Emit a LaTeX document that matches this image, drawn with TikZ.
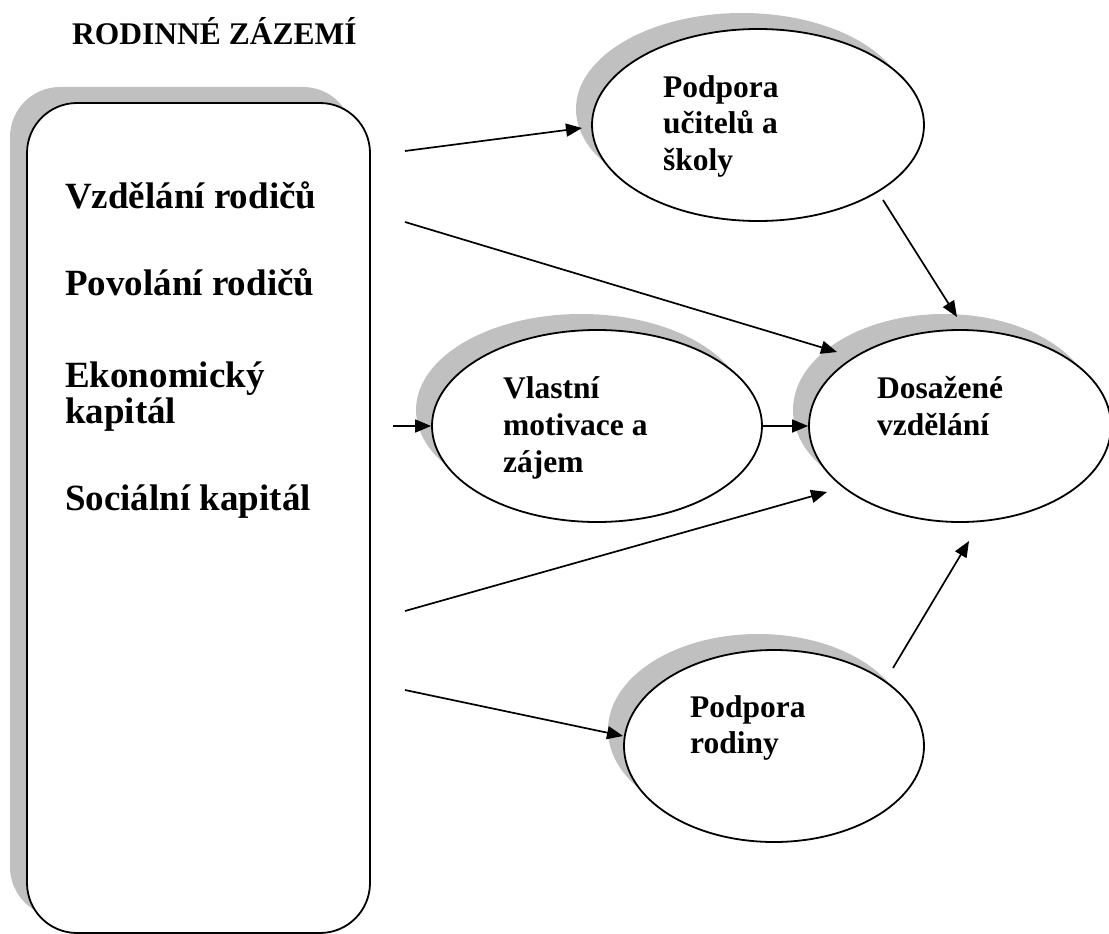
\documentclass[tikz,border=0pt]{standalone}
\usepackage{fontspec}
\setmainfont{Liberation Serif}
\usetikzlibrary{shapes.geometric,shadows,arrows.meta}
\definecolor{shgray}{HTML}{C0C0C0}
\begin{document}
\begin{tikzpicture}[x=1pt,y=-1pt,
  shad/.style={drop shadow={shadow xshift=-16pt,shadow yshift=16pt,fill=shgray,opacity=1}},
  oval/.style={ellipse,draw,line width=1.8pt,fill=white,inner sep=0pt,shad},
  lbl/.style={anchor=base west,inner sep=0pt,font=\fontsize{31.5}{36}\selectfont\bfseries},
  boxlbl/.style={anchor=base west,inner sep=0pt,font=\fontsize{37}{42}\selectfont\bfseries},
  arr/.style={line width=1.7pt,-{Triangle[length=16pt,width=13pt]}}]
\useasboundingbox (0,0) rectangle (1109,934);

% family background box
\node[draw,line width=1.8pt,fill=white,rounded corners=50pt,minimum width=343pt,
  minimum height=830pt,inner sep=0pt,
  drop shadow={shadow xshift=-17pt,shadow yshift=16pt,fill=shgray,opacity=1}] (box) at (198.5,518) {};

% ellipses
\node[oval,minimum width=332pt,minimum height=192pt] (pu) at (758,125) {};
\node[oval,minimum width=330pt,minimum height=192pt] (vm) at (597,426) {};
\node[oval,minimum width=302pt,minimum height=192pt] (dv) at (960,426) {};
\node[oval,minimum width=300pt,minimum height=192pt] (pr) at (774,746) {};

% texts
\node[lbl] (title) at (72,45) {RODINNÉ ZÁZEMÍ};
\node[boxlbl] (b1) at (65,208) {Vzdělání rodičů};
\node[boxlbl] (b2) at (65,295) {Povolání rodičů};
\node[boxlbl] (b3) at (65,387) {Ekonomický};
\node[boxlbl] (b4) at (65,423) {kapitál};
\node[boxlbl] (b5) at (65,510) {Sociální kapitál};

\node[lbl] (pu1) at (663,97) {Podpora};
\node[lbl] (pu2) at (663,133) {učitelů a};
\node[lbl] (pu3) at (663,170) {školy};

\node[lbl] (vm1) at (503,398) {Vlastní};
\node[lbl] (vm2) at (503,435) {motivace a};
\node[lbl] (vm3) at (503,472) {zájem};

\node[lbl] (dv1) at (877,398) {Dosažené};
\node[lbl] (dv2) at (877,435) {vzdělání};

\node[lbl] (pr1) at (690,717) {Podpora};
\node[lbl] (pr2) at (690,753) {rodiny};

% connector end points
\coordinate (s1) at (405,151);
\coordinate (e1) at (582,128);
\coordinate (s2) at (405,222);
\coordinate (e2) at (837,352);
\coordinate (s4) at (393,426);
\coordinate (s5) at (405,611);
\coordinate (e5) at (827,492);
\coordinate (s6) at (405,690);
\coordinate (e6) at (623,736);
\coordinate (s7) at (883,200);
\coordinate (e7) at (957,317);
\coordinate (s8) at (893,668);
\coordinate (e8) at (969,541);

% connectors
\draw[arr] (s1) -- (e1);
\draw[arr] (s2) -- (e2);
\draw[arr] (s4) -- (vm.west);
\draw[arr] (vm.east) -- (dv.west);
\draw[arr] (s5) -- (e5);
\draw[arr] (s6) -- (e6);
\draw[arr] (s7) -- (e7);
\draw[arr] (s8) -- (e8);
\end{tikzpicture}
\end{document}
